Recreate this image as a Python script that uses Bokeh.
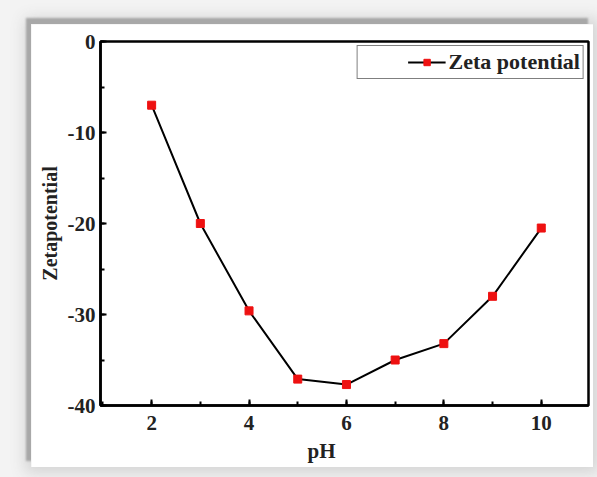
from bokeh.plotting import figure
from bokeh.layouts import column
from bokeh.models import (Range1d, SingleIntervalTicker, Legend, LegendItem, Title,
                          PrintfTickFormatter)
from bokeh.embed import file_html
from bokeh.resources import INLINE

# pH sweep and measured zeta potential (mV)
ph = [2, 3, 4, 5, 6, 7, 8, 9, 10]
zeta = [-7.0, -20.0, -29.6, -37.1, -37.7, -35.0, -33.2, -28.0, -20.5]

FONT = "Liberation Serif"
INK = "#222222"

p = figure(
    width=562, height=443,
    x_range=Range1d(0.95, 10.97), y_range=Range1d(-40, 0),
    output_backend="svg", toolbar_location=None,
    min_border_left=69, min_border_top=17, min_border_right=5, min_border_bottom=62,
    background_fill_color="white", border_fill_color="white",
)
p.xgrid.visible = False
p.ygrid.visible = False
p.outline_line_color = "black"
p.outline_line_width = 2.5
p.outline_line_alpha = 1.0

line = p.line(ph, zeta, line_color="black", line_width=2)
pts = p.scatter(ph, zeta, marker="square", size=8, fill_color="#ee1111", line_color="#ee1111")

p.xaxis.ticker = SingleIntervalTicker(interval=2, num_minor_ticks=2)
p.yaxis.ticker = SingleIntervalTicker(interval=10, num_minor_ticks=2)
p.yaxis.formatter = PrintfTickFormatter(format="%d")

for ax in (p.xaxis[0], p.yaxis[0]):
    ax.axis_line_width = 2.5
    ax.axis_line_color = "black"
    ax.major_tick_in = 6
    ax.major_tick_out = 0
    ax.minor_tick_in = 4
    ax.minor_tick_out = 0
    ax.major_tick_line_width = 2
    ax.minor_tick_line_width = 2
    ax.major_label_text_font = FONT
    ax.major_label_text_font_style = "bold"
    ax.major_label_text_font_size = "21px"
    ax.major_label_text_color = INK

p.xaxis.major_label_standoff = 10
p.yaxis.major_label_standoff = 5

p.yaxis.axis_label = "Zetapotential"
p.yaxis.axis_label_text_font = FONT
p.yaxis.axis_label_text_font_style = "bold"
p.yaxis.axis_label_text_font_size = "20px"
p.yaxis.axis_label_text_color = INK
p.yaxis.axis_label_standoff = 4

# x axis title sits a little left of centre
p.add_layout(Title(text="pH", align="left", offset=207, standoff=8,
                   text_font=FONT, text_font_style="bold", text_line_height=0.7,
                   text_font_size="21px", text_color=INK), "below")

# blank left-hand title keeps empty room before the legend glyph
legend = Legend(
    items=[LegendItem(label="Zeta potential", renderers=[line, pts])],
    location="top_right",
    title="\u2009", title_location="left", title_standoff=8,
    title_text_font_size="34px",
    label_text_font=FONT, label_text_font_style="bold", label_text_font_size="22px",
    label_text_color=INK,
    border_line_color="black", border_line_width=1.5,
    glyph_width=38, glyph_height=16, label_standoff=3,
    padding=3, margin=4, spacing=0,
)
p.add_layout(legend)

p.margin = (24, 0, 0, 31)
p.styles = {"box-shadow": "-5px -6px 2px #a8a8a8, 0 0 14px 6px #d4d4d4"}

root = column(p, width=597, height=477, styles={"background-color": "#f3f3f3"})

open("out.html", "w").write(file_html(root, INLINE))
